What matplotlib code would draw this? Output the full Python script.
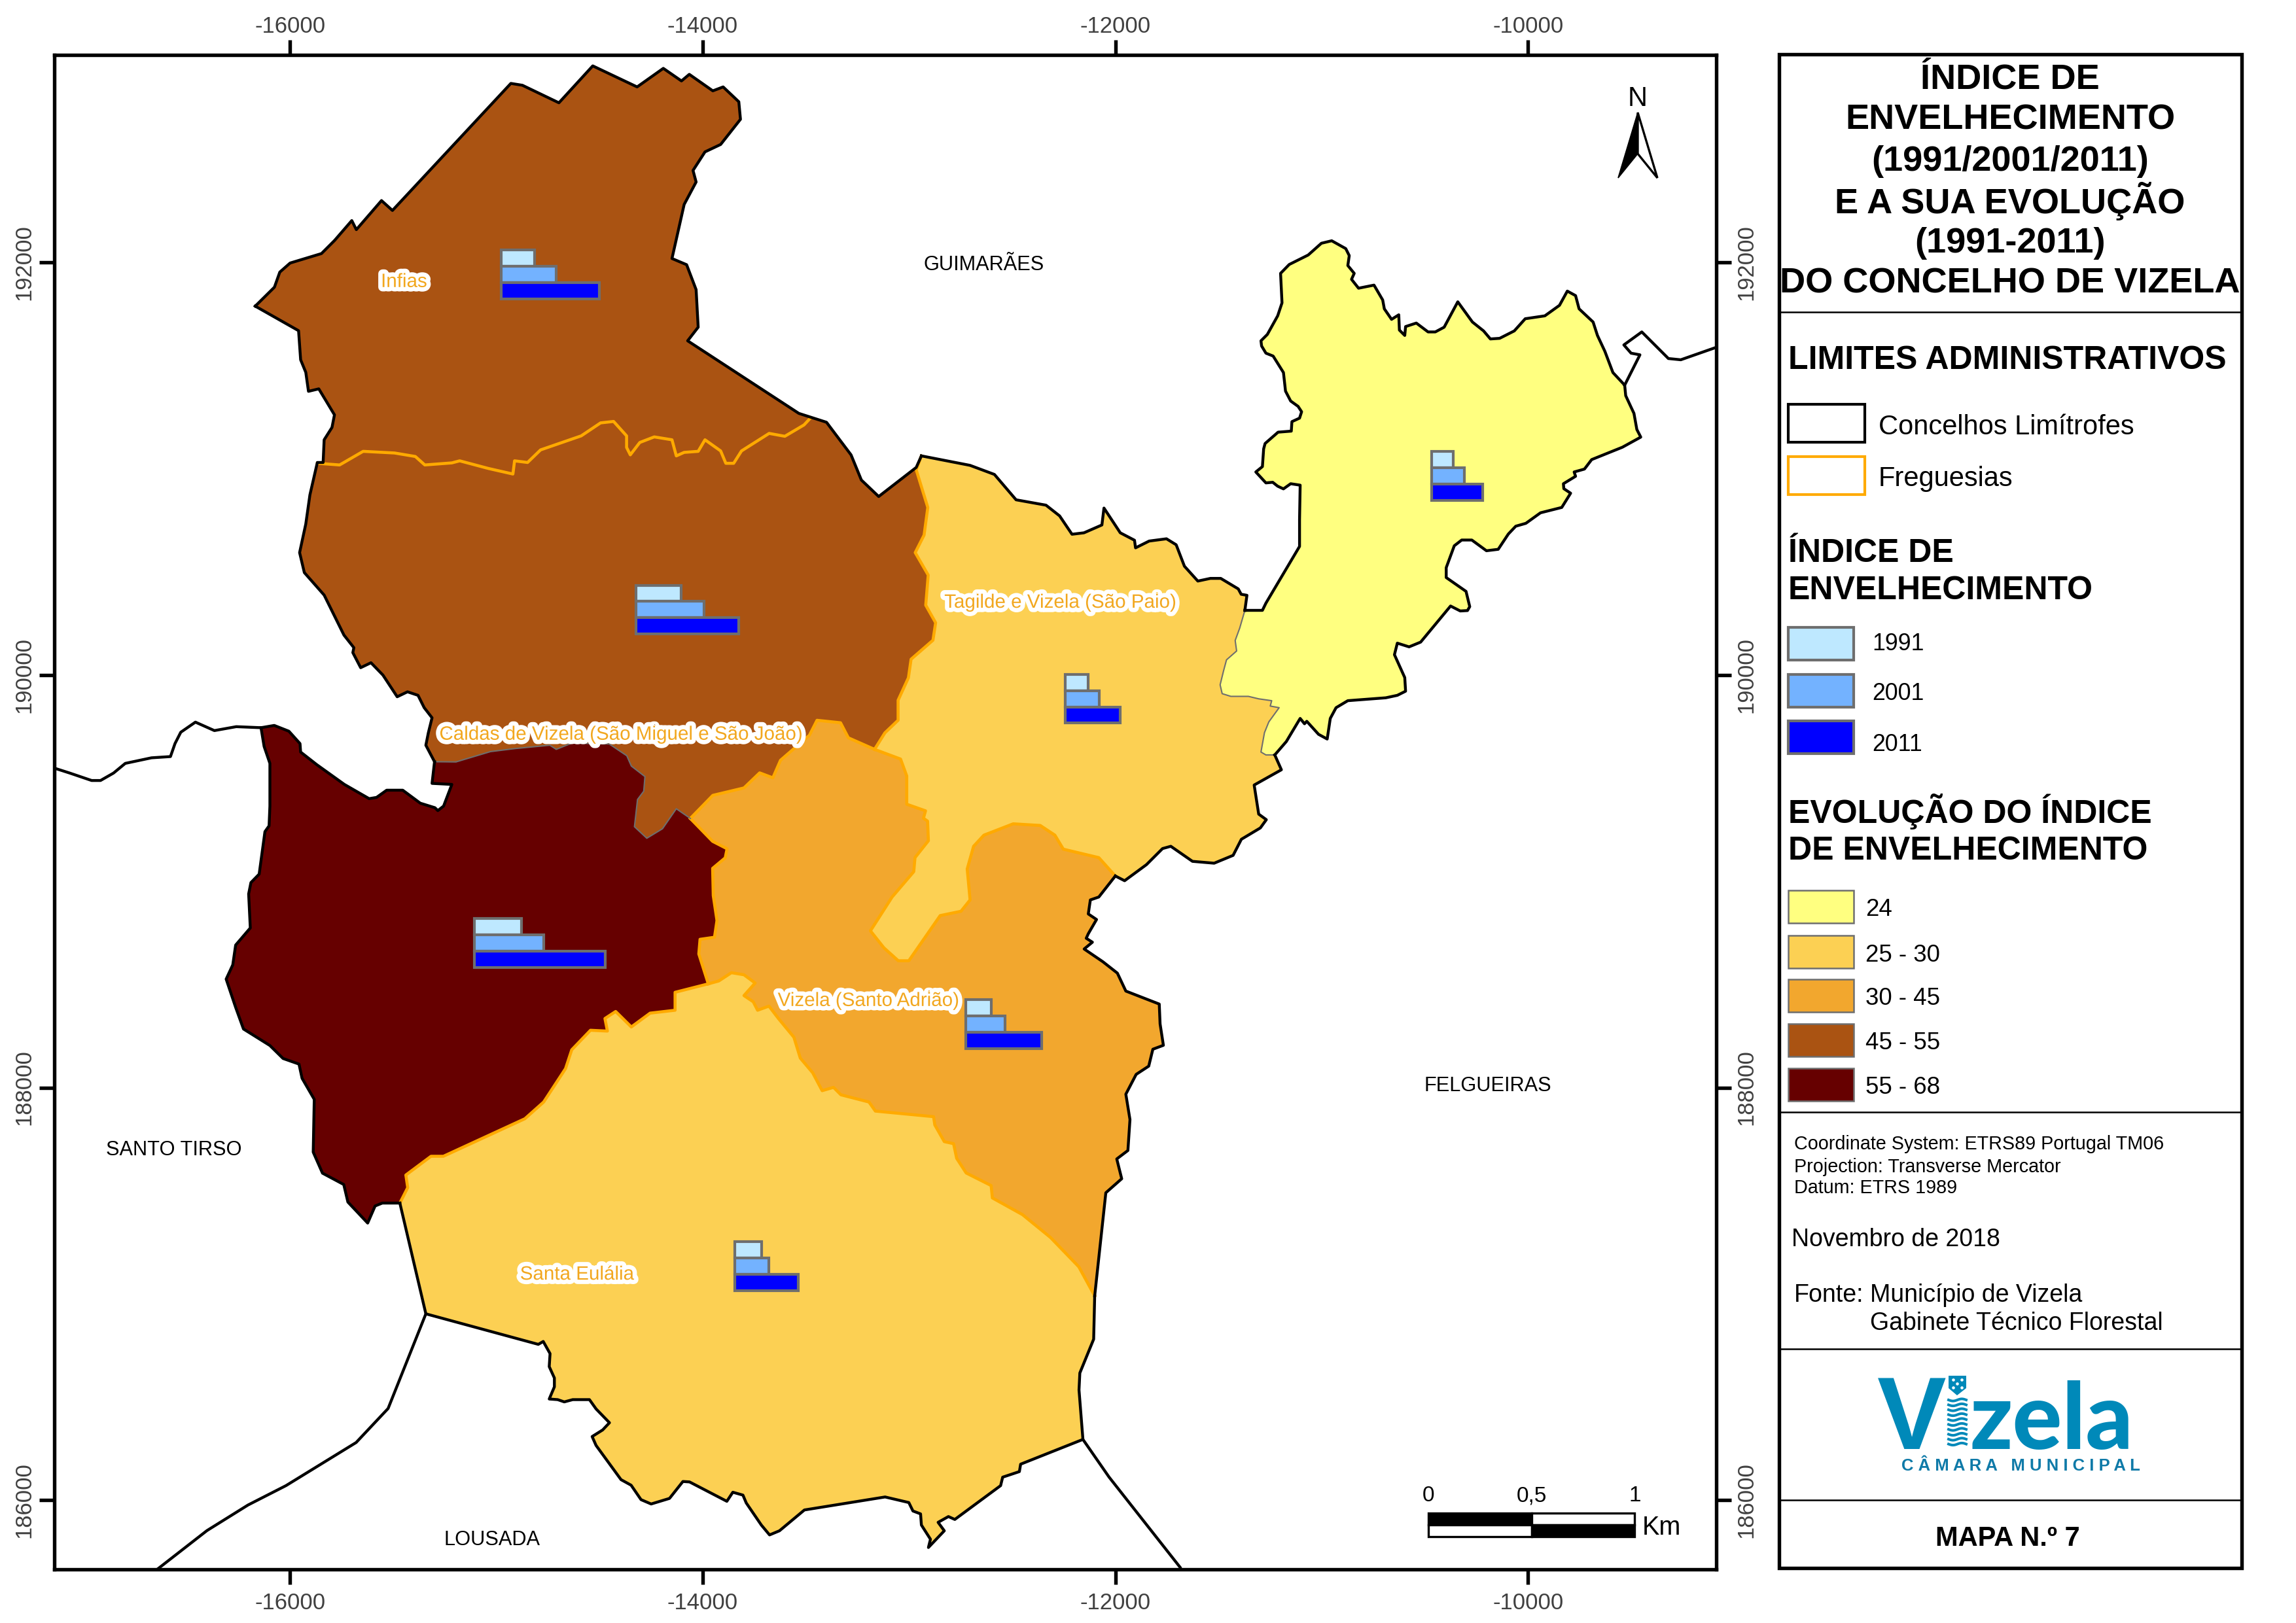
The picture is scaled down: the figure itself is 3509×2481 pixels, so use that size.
import numpy as np
import matplotlib
matplotlib.use("Agg")
import matplotlib.pyplot as plt
from matplotlib.patches import Rectangle, Polygon
from matplotlib.transforms import ScaledTranslation
import matplotlib.patheffects as pe

plt.rcParams['font.family'] = ['Liberation Sans', 'DejaVu Sans']
plt.rcParams['axes.unicode_minus'] = False

# --- boundaries, all in map metres (ETRS89 TM06) ---
north_outer = [(-16169,191789),(-16076,191881),(-16050,191954),(-16000,191998),(-15848,192044),(-15785,192107),
    (-15701,192204),(-15679,192160),(-15557,192301),(-15504,192253),(-14930,192869),(-14874,192860),(-14697,192775),
    (-14533,192954),(-14318,192852),(-14191,192942),(-14103,192881),(-14065,192913),(-13951,192833),(-13901,192852),
    (-13825,192780),(-13817,192695),(-13913,192573),(-13989,192537),(-14047,192447),(-14032,192391),(-14090,192282),
    (-14149,192020),(-14078,191990),(-14032,191869),(-14022,191687),(-14073,191621),(-13534,191269),(-13400,191226),
    (-13281,191068),(-13231,190946),(-13147,190866),(-12965,191007),(-12940,191063)]
caldas_tagilde = [(-12940,191063),(-12965,190995),(-12909,190813),(-12927,190679),(-12970,190594),(-12907,190485),
    (-12919,190339),(-12871,190254),(-12884,190169),(-12990,190077),(-13003,189987),(-13053,189878),(-13053,189781),
    (-13117,189720),(-13167,189640)]
caldas_orange = [(-13167,189640),(-13294,189696),(-13332,189769),(-13446,189781),(-13483,189708),(-13623,189587),
    (-13660,189502),(-13724,189526),(-13800,189453),(-13951,189417),(-14060,189305)]
caldas_dark = [(-14060,189305),(-14128,189352),(-14195,189255),(-14271,189209),(-14331,189265),(-14316,189397),
    (-14286,189437),(-14280,189508),(-14346,189559),(-14368,189609),(-14453,189666),(-14635,189670),(-14710,189640),
    (-14741,189660),(-14908,189644),(-15029,189629),(-15196,189579),(-15300,189580)]
caldas_west = [(-15300,189580),(-15342,189660),(-15330,189720),(-15312,189793),(-15350,189842),(-15380,189902),
    (-15431,189919),(-15481,189895),(-15550,190000),(-15608,190060),(-15658,190036),(-15696,190109),(-15691,190133),
    (-15739,190194),(-15835,190388),(-15931,190497),(-15954,190594),(-15924,190733),(-15904,190874),(-15868,191031),
    (-15840,191031),(-15835,191141),(-15797,191201),(-15785,191262),(-15861,191388),(-15911,191376),(-15924,191468),
    (-15949,191529),(-15959,191670),(-16169,191789)]
infias_line = [(-15868,191027),(-15760,191019),(-15646,191085),(-15494,191077),(-15393,191060),(-15347,191019),
    (-15216,191029),(-15178,191039),(-15039,191002),(-14920,190975),(-14912,191039),(-14849,191031),(-14786,191092),
    (-14589,191160),(-14495,191223),(-14432,191230),(-14369,191160),(-14369,191104),(-14351,191068),(-14305,191128),
    (-14235,191155),(-14149,191141),(-14128,191063),(-14090,191080),(-14022,191085),(-13989,191141),(-13913,191087),
    (-13888,191027),(-13850,191027),(-13812,191087),(-13678,191172),(-13602,191158),(-13509,191213),(-13481,191243)]
dark_north = [(-16141,189745),(-16077,189756),(-16006,189728),(-15952,189668),(-15949,189627),(-15871,189566),
    (-15737,189470),(-15617,189401),(-15581,189407),(-15532,189442),(-15454,189442),(-15369,189379),(-15298,189357),
    (-15284,189343),(-15256,189365),(-15216,189470),(-15312,189475),(-15300,189580)]
dark_west = [(-16141,189745),(-16126,189654),(-16098,189572),(-16098,189365),(-16102,189269),(-16122,189241),
    (-16150,189035),(-16190,188994),(-16201,188939),(-16193,188774),(-16264,188691),(-16278,188595),(-16310,188526),
    (-16264,188389),(-16226,188284),(-16098,188204),(-16034,188141),(-15957,188114),(-15942,188045),(-15883,187943),
    (-15888,187687),(-15843,187585),(-15740,187530),(-15720,187445),(-15624,187343),(-15588,187426),(-15553,187440),
    (-15468,187440)]
santa_dark = [(-15468,187440),(-15430,187515),(-15439,187576),(-15317,187667),(-15257,187667),(-14862,187849),
    (-14771,187930),(-14665,188092),(-14635,188183),(-14544,188278),(-14462,188274),(-14474,188335),(-14422,188369),
    (-14346,188294),(-14255,188361),(-14134,188375),(-14134,188462),(-13973,188503)]
dark_orange = [(-13973,188503),(-14019,188648),(-14013,188719),(-13943,188729),(-13931,188810),(-13949,188931),
    (-13952,189063),(-13891,189114),(-13882,189158),(-13952,189194),(-14060,189305)]
santa_orange = [(-13973,188503),(-13922,188517),(-13861,188557),(-13800,188547),(-13746,188507),(-13800,188446),
    (-13755,188416),(-13734,188375),(-13679,188395),(-13633,188335),(-13558,188244),(-13527,188143),(-13467,188072),
    (-13421,187985),(-13366,188001),(-13330,187965),(-13194,187930),(-13163,187886),(-12881,187859),(-12875,187819),
    (-12829,187738),(-12784,187728),(-12769,187657),(-12723,187586),(-12602,187525),(-12596,187465),(-12450,187384),
    (-12314,187273),(-12177,187131),(-12100,186990)]
santa_outer = [(-12100,186990),(-12105,186780),(-12172,186616),(-12176,186534),(-12157,186294),(-12459,186174),
    (-12465,186138),(-12546,186111),(-12556,186070),(-12778,185906),(-12809,185920),(-12859,185892),(-12829,185851),
    (-12906,185770),(-12896,185810),(-12940,185879),(-12944,185933),(-12981,185947),(-13001,185988),(-13116,186015),
    (-13507,185952),(-13628,185851),(-13676,185831),(-13716,185879),(-13789,185986),(-13805,186024),(-13854,186038),
    (-13883,185994),(-14064,186088),(-14096,186090),(-14161,186008),(-14250,185981),(-14299,186002),(-14347,186072),
    (-14396,186099),(-14517,186265),(-14536,186308),(-14485,186340),(-14452,186375),(-14517,186442),(-14549,186487),
    (-14630,186487),(-14671,186476),(-14703,186487),(-14744,186490),(-14719,186549),(-14719,186592),(-14744,186647),
    (-14740,186710),(-14773,186769),(-14797,186755),(-15342,186903),(-15468,187440)]
tagilde_north = [(-12940,191063),(-12704,191017),(-12586,190973),(-12481,190850),(-12336,190824),(-12270,190772),
    (-12210,190683),(-12152,190690),(-12065,190728),(-12055,190810),(-11976,190690),(-11907,190654),(-11902,190617),
    (-11836,190650),(-11752,190661),(-11705,190632),(-11665,190528),(-11600,190456),(-11539,190469),(-11489,190469),
    (-11404,190418),(-11390,190392),(-11362,190387),(-11372,190314)]
tagilde_yellow = [(-11372,190314),(-11397,190228),(-11419,190168),(-11412,190117),(-11461,190074),(-11475,190022),
    (-11492,189953),(-11482,189910),(-11440,189897),(-11355,189897),(-11305,189885),(-11242,189876),(-11249,189850),
    (-11206,189842),(-11256,189773),(-11277,189721),(-11294,189627),(-11270,189613),(-11227,189613)]
tagilde_south = [(-11227,189613),(-11195,189541),(-11327,189467),(-11305,189326),(-11268,189299),(-11297,189259),
    (-11389,189204),(-11429,189126),(-11521,189088),(-11626,189097),(-11731,189170),(-11771,189159),(-11849,189081),
    (-11955,189003),(-12000,189026)]
tagilde_orange = [(-12000,189026),(-12080,189115),(-12252,189156),(-12293,189224),(-12364,189271),(-12495,189279),
    (-12637,189224),(-12687,189170),(-12718,189060),(-12704,188910),(-12748,188855),(-12849,188834),(-13001,188615),
    (-13052,188615),(-13122,188678),(-13187,188760),(-13082,188924),(-12977,189047),(-12971,189115),(-12906,189197),
    (-12910,189292),(-12930,189306),(-12920,189342),(-13011,189374),(-13011,189511),(-13041,189593),(-13167,189640)]
orange_east = [(-12000,189026),(-12080,188924),(-12121,188910),(-12131,188842),(-12091,188815),(-12131,188746),
    (-12141,188724),(-12111,188705),(-12151,188672),(-12060,188610),(-11990,188555),(-11949,188468),(-11787,188405),
    (-11783,188309),(-11767,188205),(-11818,188186),(-11838,188104),(-11899,188064),(-11949,187968),(-11929,187845),
    (-11939,187695),(-11993,187654),(-11969,187558),(-12046,187490),(-12100,186990)]
yellow_outer = [(-11372,190314),(-11287,190314),(-11270,190349),(-11107,190624),(-11107,190753),(-11104,190921),
    (-11150,190928),(-11185,190903),(-11213,190916),(-11237,190935),(-11270,190932),(-11319,190985),(-11287,191011),
    (-11281,191097),(-11274,191123),(-11211,191178),(-11147,191183),(-11144,191229),(-11107,191246),(-11097,191277),
    (-11114,191303),(-11150,191329),(-11175,191377),(-11185,191467),(-11235,191547),(-11270,191561),(-11291,191596),
    (-11294,191621),(-11263,191652),(-11213,191742),(-11192,191805),(-11199,191948),(-11157,191991),(-11065,192037),
    (-11001,192094),(-10951,192106),(-10883,192068),(-10866,192034),(-10873,191986),(-10842,191948),(-10855,191919),
    (-10821,191876),(-10746,191891),(-10704,191819),(-10696,191776),(-10661,191725),(-10626,191747),(-10623,191673),
    (-10597,191647),(-10593,191690),(-10541,191707),(-10484,191664),(-10449,191664),(-10406,191687),(-10340,191810),
    (-10269,191712),(-10215,191669),(-10182,191630),(-10137,191633),(-10066,191669),(-10013,191728),(-9918,191742),
    (-9847,191793),(-9809,191862),(-9769,191840),(-9752,191776),(-9684,191712),(-9663,191647),(-9627,191570),
    (-9588,191467),(-9531,191406),(-9526,191355),(-9486,191269),(-9472,191191),(-9453,191154),(-9542,191105),
    (-9691,191045),(-9726,190999),(-9776,190985),(-9769,190964),(-9828,190928),(-9826,190904),(-9793,190882),
    (-9836,190813),(-9939,190787),(-10010,190736),(-10059,190722),(-10095,190684),(-10144,190610),(-10201,190603),
    (-10272,190655),(-10321,190655),(-10357,190627),(-10396,190521),(-10396,190473),(-10300,190406),(-10282,190332),
    (-10293,190313),(-10328,190311),(-10375,190335),(-10520,190160),(-10576,190137),(-10633,190155),(-10647,190099),
    (-10597,189988),(-10593,189922),(-10633,189902),(-10689,189890),(-10873,189876),(-10930,189842),(-10958,189790),
    (-10973,189690),(-11015,189713),(-11072,189776),(-11083,189764),(-11104,189790),(-11171,189678),(-11227,189613)]
# neighbouring concelhos
line_west = [(-17146,189550),(-17068,189525),(-16962,189489),(-16919,189489),(-16856,189525),(-16799,189572),
    (-16672,189599),(-16580,189605),(-16558,189668),(-16530,189723),(-16459,189772),(-16367,189731),(-16261,189750),
    (-16141,189745)]
line_lousada = [(-15342,186903),(-15525,186444),(-15680,186279),(-16020,186070),(-16204,185976),(-16403,185852),(-16643,185665)]
line_se = [(-12157,186294),(-12030,186111),(-11686,185674)]
line_ne = [(-9531,191406),(-9457,191553),(-9500,191561),(-9535,191601),(-9448,191664),(-9319,191535),(-9259,191529),(-9088,191589)]

# --- index bars per freguesia ---
bar_left = [-14976, -14323, -15108, -12726, -13843, -12244, -10467]
bar_bottom = [191825, 190199, 188582, 188189, 187016, 189767, 190847]
len_1991 = [160, 220, 228, 124, 130, 113, 106]
len_2001 = [266, 329, 337, 191, 164, 166, 160]
len_2011 = [476, 498, 634, 370, 306, 268, 248]
bar_height = 79

parish_names = ['Infias', 'Caldas de Vizela (São Miguel e São João)', 'Tagilde e Vizela (São Paio)',
                'Vizela (Santo Adrião)', 'Santa Eulália']
parish_x = [-15448, -14397, -12267, -13197, -14610]
parish_y = [191907, 189712, 190352, 188421, 187094]
concelho_names = ['GUIMARÃES', 'SANTO TIRSO', 'FELGUEIRAS', 'LOUSADA']
concelho_x = [-12636, -16562, -10194, -15022]
concelho_y = [191990, 187697, 188008, 185807]

x_ticks = [-16000, -14000, -12000, -10000]
y_ticks = [186000, 188000, 190000, 192000]

evol_labels = ['24', '25 - 30', '30 - 45', '45 - 55', '55 - 68']
evol_colors = ['#ffff80', '#fcd053', '#f2a72e', '#aa5312', '#660000']
year_labels = ['1991', '2001', '2011']
year_colors = ['#bee8ff', '#73b2ff', '#0000ff']
title_lines = ['ÍNDICE DE', 'ENVELHECIMENTO', '(1991/2001/2011)', 'E A SUA EVOLUÇÃO', '(1991-2011)', 'DO CONCELHO DE VIZELA']

ORANGE = '#ffaa00'
GREY = '#6e6e6e'


def chain(*edges):
    pts = []
    for e in edges:
        pts.extend(e)
    return pts


def fill(ax, pts, color):
    xs, ys = zip(*pts)
    ax.fill(xs, ys, color=color, lw=0, zorder=1)


def stroke(ax, pts, color, lw):
    xs, ys = zip(*pts)
    ax.plot(xs, ys, color=color, lw=lw, zorder=3, solid_joinstyle='round')


W, H = 3509, 2481
fig = plt.figure(figsize=(W / 300, H / 300), dpi=300)
ax = fig.add_axes([83 / W, 1 - 2399 / H, (2623 - 83) / W, (2399 - 84) / H])
ax.set_xlim(-17143, -9087)
ax.set_ylim(185664, 193007)

fill(ax, chain(north_outer, caldas_tagilde, caldas_orange, caldas_dark, caldas_west), evol_colors[3])
fill(ax, chain(dark_west, santa_dark, dark_orange, caldas_dark, dark_north[::-1]), evol_colors[4])
fill(ax, chain(santa_dark, santa_orange, santa_outer), evol_colors[1])
fill(ax, chain(caldas_orange[::-1], tagilde_orange[::-1], orange_east, santa_orange[::-1], dark_orange), evol_colors[2])
fill(ax, chain(tagilde_north, tagilde_yellow, tagilde_south, tagilde_orange, caldas_tagilde[::-1]), evol_colors[1])
fill(ax, chain(yellow_outer, tagilde_yellow[::-1]), evol_colors[0])

for edge in [caldas_tagilde, caldas_orange, santa_dark, santa_orange, dark_orange, tagilde_orange, infias_line]:
    stroke(ax, edge, ORANGE, 1.1)
for edge in [caldas_dark, tagilde_yellow]:
    stroke(ax, edge, GREY, 0.5)
for edge in [north_outer, caldas_west, dark_north, dark_west, santa_outer, tagilde_north, tagilde_south,
             orange_east, yellow_outer, line_west, line_lousada, line_se, line_ne]:
    stroke(ax, edge, 'black', 1.05)

for i in range(len(bar_left)):
    lengths = [len_1991[i], len_2001[i], len_2011[i]]
    for k in range(3):
        ax.barh(bar_bottom[i] + (2.5 - k) * bar_height, lengths[k], height=bar_height, left=bar_left[i],
                color=year_colors[k], edgecolor=GREY, linewidth=1.0, zorder=4)

halo = [pe.withStroke(linewidth=3.2, foreground='white')]
for name, px, py in zip(parish_names, parish_x, parish_y):
    ax.text(px, py, name, color='#f2a71e', fontsize=7.1, ha='center', va='center', path_effects=halo, zorder=6)
for name, px, py in zip(concelho_names, concelho_x, concelho_y):
    ax.text(px, py, name, color='black', fontsize=7.4, ha='center', va='center', zorder=6)

# scale bar (1 km)
scale_y = [185908, 185850]
ax.barh(scale_y[0], [500, 500], height=57, left=[-10482, -9982], color=['black', 'white'], edgecolor='black', lw=0.8, zorder=5)
ax.barh(scale_y[1], [500, 500], height=57, left=[-10482, -9982], color=['white', 'black'], edgecolor='black', lw=0.8, zorder=5)
for lab, sx in zip(['0', '0,5', '1'], [-10482, -9982, -9482]):
    ax.text(sx, 186020, lab, fontsize=8, ha='center', va='center', zorder=6)
ax.text(-9353, 185866, 'Km', fontsize=9.5, ha='center', va='center', zorder=6)

ax.set_xticks(x_ticks)
ax.set_xticklabels([str(v) for v in x_ticks])
ax.set_yticks(y_ticks)
ax.set_yticklabels([str(v) for v in y_ticks], rotation=90, va='center')
ax.tick_params(top=True, right=True, labeltop=True, labelright=True, length=5.5, width=1.3,
               labelsize=8.3, labelcolor='#404040')
ax.tick_params(axis='x', pad=3)
ax.tick_params(axis='y', pad=1.5)
for tick in ax.xaxis.get_major_ticks():
    # top labels sit closer to the frame than the bottom ones
    tick.label2.set_transform(tick.label2.get_transform() + ScaledTranslation(0, -2 / 72, fig.dpi_scale_trans))
for lab in ax.get_yticklabels(which='major'):
    lab.set_va('center')
for sp in ax.spines.values():
    sp.set_linewidth(1.3)

# --- side panel, drawn in figure pixels ---
pan = fig.add_axes([0, 0, 1, 1], facecolor='none')
pan.set_xlim(0, W)
pan.set_ylim(H, 0)
pan.axis('off')

pan.add_patch(Rectangle((2719, 83), 3426 - 2719, 2397 - 83, fc='none', ec='black', lw=1.3))
for yy in [477, 1700, 2062, 2293]:
    pan.plot([2719, 3426], [yy, yy], color='black', lw=0.6)

for line, yy in zip(title_lines, [121, 183, 247, 307, 372, 433]):
    pan.text(3072, yy, line, fontsize=13, fontweight='bold', ha='center', va='center')

pan.text(2733, 551, 'LIMITES ADMINISTRATIVOS', fontsize=12, fontweight='bold', va='center')
pan.add_patch(Rectangle((2733, 618), 117, 58, fc='white', ec='black', lw=1.0))
pan.add_patch(Rectangle((2733, 698), 117, 58, fc='white', ec=ORANGE, lw=1.0))
pan.text(2871, 653, 'Concelhos Limítrofes', fontsize=10, va='center')
pan.text(2871, 732, 'Freguesias', fontsize=10, va='center')

pan.text(2733, 846, 'ÍNDICE DE', fontsize=12, fontweight='bold', va='center')
pan.text(2733, 903, 'ENVELHECIMENTO', fontsize=12, fontweight='bold', va='center')
for lab, col, y0, ty in zip(year_labels, year_colors, [959, 1031, 1102], [985, 1060, 1138]):
    pan.add_patch(Rectangle((2733, y0), 100, 50, fc=col, ec=GREY, lw=1.0))
    pan.text(2861, ty, lab, fontsize=8.6, va='center')

pan.text(2733, 1241, 'EVOLUÇÃO DO ÍNDICE', fontsize=12, fontweight='bold', va='center')
pan.text(2733, 1301, 'DE ENVELHECIMENTO', fontsize=12, fontweight='bold', va='center')
for lab, col, y0 in zip(evol_labels, evol_colors, [1361, 1430, 1497, 1565, 1633]):
    pan.add_patch(Rectangle((2733, y0), 100, 50, fc=col, ec=GREY, lw=0.6))
    pan.text(2851, y0 + 30, lab, fontsize=8.8, va='center')

for txt, yy in zip(['Coordinate System: ETRS89 Portugal TM06', 'Projection: Transverse Mercator', 'Datum: ETRS 1989'],
                   [1749, 1784, 1816]):
    pan.text(2742, yy, txt, fontsize=6.9, va='center')
pan.text(2738, 1895, 'Novembro de 2018', fontsize=9, va='center')
pan.text(2742, 1980, 'Fonte:', fontsize=9, va='center')
pan.text(2858, 1980, 'Município de Vizela', fontsize=9, va='center')
pan.text(2858, 2023, 'Gabinete Técnico Florestal', fontsize=9, va='center')
pan.text(3068, 2352, 'MAPA N.º 7', fontsize=10, fontweight='bold', ha='center', va='center')

# logo
LOGO = '#0089b9'
pan.text(2922, 2215, 'V', color=LOGO, fontsize=38, fontweight='bold', family='Liberation Sans', ha='center', va='baseline')
pan.text(3011, 2215, 'zela', color=LOGO, fontsize=34, fontweight=900, family='Lato', ha='left', va='baseline')
pan.add_patch(Polygon([(2978, 2103), (3005, 2103), (3005, 2122), (2991, 2133), (2978, 2122)], fc=LOGO, ec='none'))
for dx, dy in [(2985, 2109), (2998, 2109), (2991, 2115), (2985, 2121), (2998, 2121)]:
    pan.plot(dx, dy, 'o', color='white', ms=1.1, mew=0)
wx = np.linspace(2978, 3005, 30)
for wy in np.arange(2140, 2214, 7.5):
    pan.plot(wx, wy + 1.6 * np.sin((wx - 2978) / 27 * 2 * np.pi), color=LOGO, lw=0.95)
pan.text(3088, 2241, 'C Â M A R A   M U N I C I P A L', color='#0f7aa8', fontsize=6.2, fontweight='bold', ha='center', va='center')

# north arrow
pan.text(2503, 151, 'N', fontsize=10, ha='center', va='center')
pan.add_patch(Polygon([(2503, 172), (2473, 272), (2503, 235)], fc='black', ec='black', lw=0.4))
pan.add_patch(Polygon([(2503, 172), (2533, 272), (2503, 235)], fc='white', ec='black', lw=0.8))

fig.savefig('out.png', dpi=300)
